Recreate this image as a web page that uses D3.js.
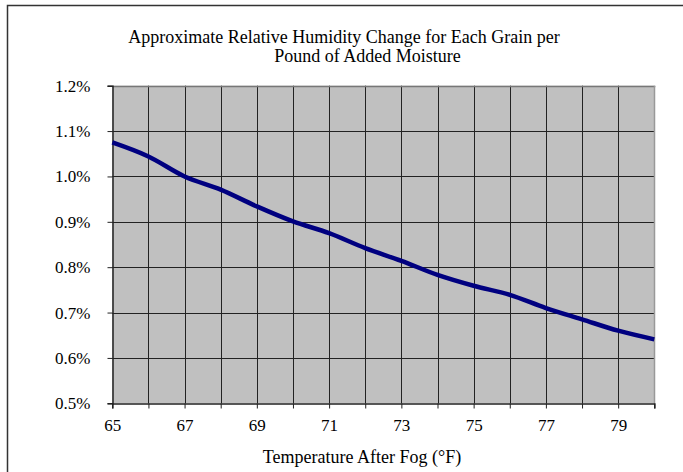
<!DOCTYPE html>
<html><head><meta charset="utf-8">
<script src="https://cdn.jsdelivr.net/npm/d3@7"></script>
<style>body{margin:0;background:#fff}svg{display:block}</style>
</head><body>
<svg id="c" width="683" height="472"></svg>
<script>
const temps = [65,66,67,68,69,70,71,72,73,74,75,76,77,78,79,80];
const rhChange = [1.075,1.044,1.0,0.971,0.934,0.901,0.875,0.842,0.814,0.783,0.759,0.739,0.710,0.685,0.660,0.641];
const xTickLabels = [65,67,69,71,73,75,77,79];
const yTickValues = [0.5,0.6,0.7,0.8,0.9,1.0,1.1,1.2];
const titleLines = ["Approximate Relative Humidity Change for Each Grain per","Pound of Added Moisture"];
const xTitle = "Temperature After Fog (°F)";

const FONT = "'Liberation Serif', 'Times New Roman', serif";
const svg = d3.select("#c");
const L = 112.3, R = 654.3, T = 85.7, B = 403.3;
const x = d3.scaleLinear().domain([65,80]).range([L,R]);
const y = d3.scaleLinear().domain([0.5,1.2]).range([B,T]);

// outer frame
svg.append("rect").attr("x",7.5).attr("y",5.5).attr("width",700).attr("height",500)
  .attr("fill","none").attr("stroke","#333").attr("stroke-width",1.5);

// plot background
svg.append("rect").attr("x",L).attr("y",T).attr("width",R-L).attr("height",B-T).attr("fill","#c0c0c0");

// grid
const g = svg.append("g");
g.selectAll("line.v").data(d3.range(66,80)).join("line")
  .attr("x1",d=>Math.round(x(d))+0.5).attr("x2",d=>Math.round(x(d))+0.5)
  .attr("y1",T).attr("y2",B).attr("stroke","#222").attr("stroke-width",1);
g.selectAll("line.h").data(yTickValues.slice(1,-1)).join("line")
  .attr("y1",d=>Math.round(y(d))+0.5).attr("y2",d=>Math.round(y(d))+0.5)
  .attr("x1",L).attr("x2",R).attr("stroke","#222").attr("stroke-width",1);
// top and right borders
svg.append("line").attr("x1",L).attr("x2",R+1).attr("y1",Math.round(T)+0.5).attr("y2",Math.round(T)+0.5).attr("stroke","#777").attr("stroke-width",1.5);
svg.append("line").attr("x1",Math.round(R)+0.5).attr("x2",Math.round(R)+0.5).attr("y1",T).attr("y2",B).attr("stroke","#999").attr("stroke-width",1.5);

// axes
const xAxis = d3.axisBottom(x).tickValues(d3.range(65,81)).tickSize(5).tickPadding(8)
  .tickFormat(d=>xTickLabels.includes(d)?String(d):"");
const gx = svg.append("g").attr("transform",`translate(0,${Math.round(B)+0.5})`).call(xAxis)
  .attr("font-family",FONT).attr("font-size",17);
gx.select(".domain").attr("stroke","#222").attr("stroke-width",1.5);
gx.selectAll(".tick line").attr("stroke","#222");
gx.selectAll(".tick text").style("font-family",FONT).style("font-size","17px").attr("dy","0.85em").attr("fill","#000");

const yAxis = d3.axisLeft(y).tickValues(yTickValues).tickSize(5).tickPadding(17)
  .tickFormat(d=>d.toFixed(1)+"%");
const gy = svg.append("g").attr("transform",`translate(${Math.round(L)+0.5},0)`).call(yAxis)
  .attr("font-family",FONT).attr("font-size",17);
gy.select(".domain").attr("stroke","#222").attr("stroke-width",1.5);
gy.selectAll(".tick line").attr("stroke","#222");
gy.selectAll(".tick text").style("font-family",FONT).style("font-size","17px").attr("fill","#000");

// line
const line = d3.line().x((d,i)=>x(temps[i])).y(d=>y(d)).curve(d3.curveMonotoneX);
svg.append("path").datum(rhChange).attr("d",line).attr("fill","none")
  .attr("stroke","#000080").attr("stroke-width",4.5).attr("stroke-linejoin","round");

// titles
const tt = svg.append("g").style("font-family",FONT).style("font-size","18px");
tt.append("text").attr("x",344).attr("y",43).attr("text-anchor","middle").text(titleLines[0]);
tt.append("text").attr("x",367.5).attr("y",61.5).attr("text-anchor","middle").text(titleLines[1]);
tt.append("text").attr("x",362).attr("y",463).attr("text-anchor","middle").text(xTitle);
</script>
</body></html>
